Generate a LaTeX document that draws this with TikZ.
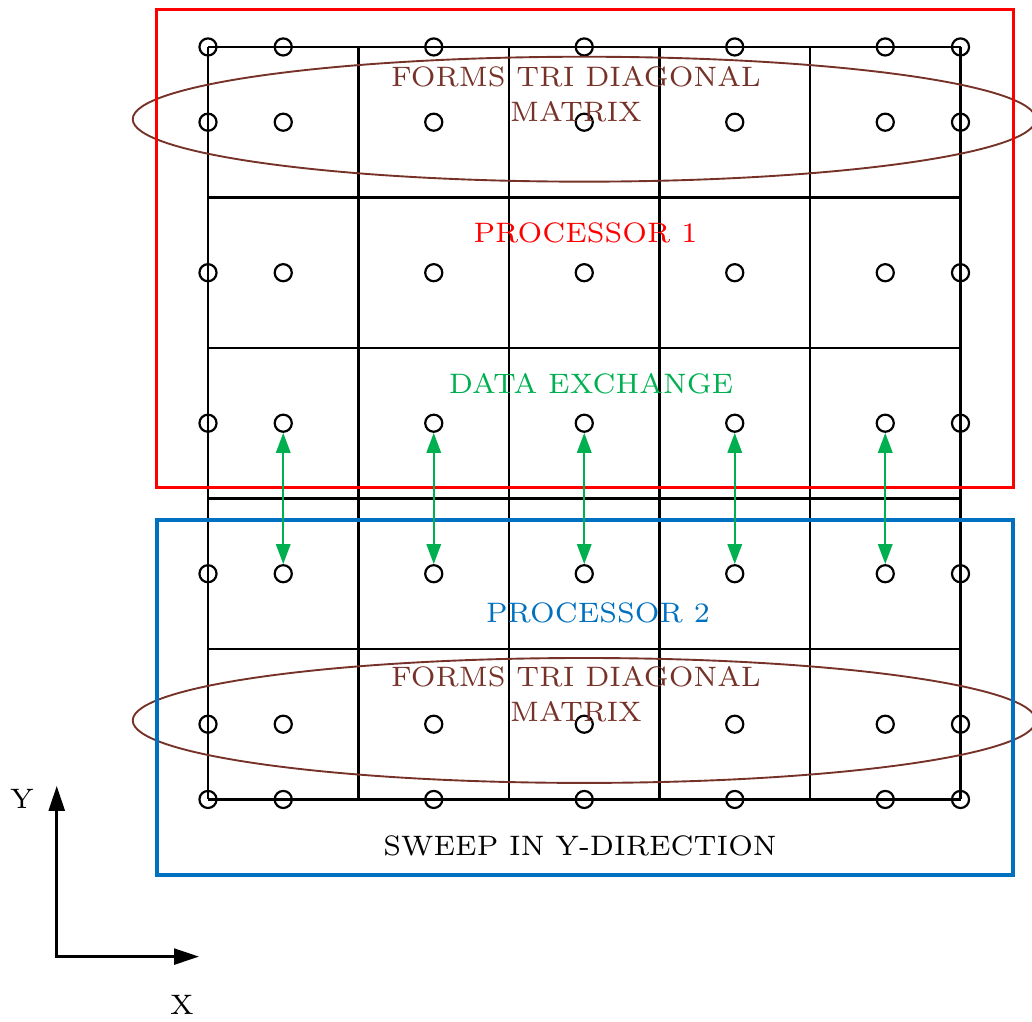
\documentclass[tikz,border=0pt]{standalone}
\usetikzlibrary{arrows.meta}
\definecolor{boxred}{RGB}{255,0,0}
\definecolor{boxblue}{RGB}{0,112,192}
\definecolor{xgreen}{RGB}{0,176,80}
\definecolor{tribrown}{RGB}{118,50,40}
\begin{document}
\begin{tikzpicture}[x=1.4cm,y=-1.4cm,
  pt/.style={circle,draw,line width=0.58pt,inner sep=0pt,minimum size=1.59mm},
  lbl/.style={font=\fontsize{7.45}{9.24}\selectfont,inner sep=0pt,align=center},
  xchg/.style={draw=xgreen,line width=0.58pt,
    {Triangle[length=5.3pt,width=3.8pt]}-{Triangle[length=5.3pt,width=3.8pt]}},
  axis/.style={line width=0.76pt,line join=miter,
    {Triangle[length=6.6pt,width=4.2pt]}-{Triangle[length=6.6pt,width=4.2pt]}}]
\useasboundingbox (-1.382,-0.312) rectangle (5.475,6.472);

% computational mesh: 5 x 5 cells
\foreach \k in {0,...,5} {
  \draw[line width=0.58pt] (\k,0) -- (\k,5);
  \draw[line width=0.58pt] (0,\k) -- (5,\k);
}

% grid points (cell centres plus boundary points)
\foreach \i/\x in {0/0,1/0.5,2/1.5,3/2.5,4/3.5,5/4.5,6/5}
  \foreach \j/\y in {0/0,1/0.5,2/1.5,3/2.5,4/3.5,5/4.5,6/5}
    \node[pt] (c-\i-\j) at (\x,\y) {};

% tri-diagonal systems
\draw[tribrown,line width=0.5pt] (2.5,0.48) ellipse [x radius=4.2cm, y radius=0.581cm];
\draw[tribrown,line width=0.5pt] (2.5,4.475) ellipse [x radius=4.2cm, y radius=0.581cm];

% processor domains
\draw[boxred,line width=0.8pt] (-0.341,-0.246) rectangle (5.349,2.924);
\draw[boxblue,line width=1.15pt] (-0.341,3.143) rectangle (5.349,5.502);

% data exchange between the two processors
\foreach \i in {1,...,5}
  \draw[xchg] (c-\i-3) -- (c-\i-4);

% labels
\node[lbl,text=tribrown] (tri-top) at (2.445,0.312) {FORMS TRI DIAGONAL\\MATRIX};
\node[lbl,text=tribrown] (tri-bot) at (2.445,4.299) {FORMS TRI DIAGONAL\\MATRIX};
\node[lbl,text=boxred] (proc-one) at (2.508,1.236) {PROCESSOR 1};
\node[lbl,text=xgreen] (exch) at (2.545,2.236) {DATA EXCHANGE};
\node[lbl,text=boxblue] (proc-two) at (2.591,3.757) {PROCESSOR 2};
\node[lbl] (sweep) at (2.472,5.309) {SWEEP IN Y-DIRECTION};

% coordinate axes
\coordinate (origin) at (-1.005,6.044);
\coordinate (ytip) at (-1.005,4.91);
\coordinate (xtip) at (-0.06,6.044);
\draw[axis] (ytip) -- (origin) -- (xtip);
\node[lbl] (ylab) at (-1.236,4.997) {Y};
\node[lbl] (xlab) at (-0.173,6.366) {X};
\end{tikzpicture}
\end{document}
